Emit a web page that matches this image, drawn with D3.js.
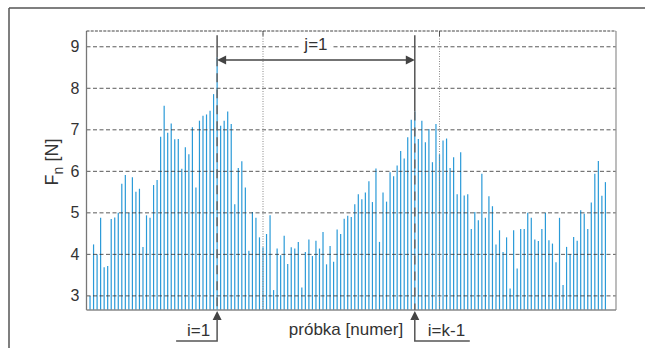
<!DOCTYPE html>
<html><head><meta charset="utf-8">
<script src="https://cdn.jsdelivr.net/npm/d3@7/dist/d3.min.js"></script>
<style>body{margin:0;background:#fff}svg{display:block}text{font-family:"Liberation Sans",Arial,sans-serif;fill:#333}</style>
</head><body><svg id="c" width="645" height="348"></svg>
<script>
// ---- data ----
const force = [
 3.0,4.24,4.0,4.88,3.69,3.72,4.85,4.89,5.0,5.7,5.91,5.0,5.86,5.51,5.58,4.18,4.94,4.88,5.67,5.79,
 6.83,7.58,6.93,7.15,6.77,6.78,6.06,6.58,6.41,7.06,5.61,7.22,7.34,7.37,7.46,7.86,8.75,7.1,7.22,7.44,
 7.14,5.21,6.08,6.24,5.61,4.09,5.02,4.88,4.41,4.17,4.49,4.94,3.14,4.14,3.98,4.45,3.77,4.17,4.14,4.3,
 3.2,4.06,4.36,3.96,4.33,4.14,4.54,3.76,4.2,3.82,4.6,4.49,4.86,4.93,4.9,5.21,5.45,5.33,5.49,5.76,
 5.26,6.07,4.3,5.49,5.27,5.98,5.88,6.14,6.49,6.31,6.82,7.24,7.44,6.78,7.22,6.7,7.02,6.22,7.14,6.41,
 6.74,6.79,6.08,6.34,5.45,6.46,5.42,5.45,4.61,5.02,4.82,5.94,4.88,5.4,5.16,4.24,4.58,4.06,4.41,3.18,
 4.58,3.66,4.61,4.61,5.0,4.88,4.36,4.32,4.61,5.0,4.34,4.26,3.81,4.88,3.26,4.18,4.0,4.42,4.33,5.06,
 4.98,4.61,5.25,5.94,6.25,5.41,5.74];
const samples = force.map((d,i)=>i+1);
const yTicks = [3,4,5,6,7,8,9];
const xTicks = [50,100];
const xDomain = [0,150];
const yDomain = [2.66,9.38];
const markers = [{i:37,label:"i=1",side:"left"},{i:93,label:"i=k-1",side:"right"}];
const spanLabel = "j=1";
const spanLevel = 8.68;
const markerTop = 9.28;
const xLabel = "próbka [numer]";

// ---- layout ----
const svg = d3.select("#c");
const L=86.5,R=616,T=31,B=310;
const x = d3.scaleLinear().domain(xDomain).range([L,R]);
const y = d3.scaleLinear().domain(yDomain).range([B,T]);

// outer frame
svg.append("line").attr("x1",9).attr("x2",9).attr("y1",8).attr("y2",348).attr("stroke","#555").attr("stroke-width",1.5);
svg.append("line").attr("x1",9).attr("x2",645).attr("y1",8).attr("y2",8).attr("stroke","#555").attr("stroke-width",1.5);

// bars
svg.append("g").selectAll("line").data(force).join("line")
  .attr("x1",(d,i)=>x(samples[i])).attr("x2",(d,i)=>x(samples[i]))
  .attr("y1",y(yDomain[0])).attr("y2",d=>y(d))
  .attr("stroke","#2a9ad8").attr("stroke-width",1.2);

// grid
svg.append("g").selectAll("line").data(yTicks).join("line")
  .attr("x1",L).attr("x2",R).attr("y1",d=>y(d)).attr("y2",d=>y(d))
  .attr("stroke","#333").attr("stroke-width",1).attr("stroke-dasharray","4,2.5").attr("opacity",0.8);
svg.append("g").selectAll("line").data(xTicks).join("line")
  .attr("x1",d=>x(d)).attr("x2",d=>x(d)).attr("y1",T).attr("y2",B)
  .attr("stroke","#888").attr("stroke-width",1).attr("stroke-dasharray","1,1.5");
svg.append("g").selectAll("line").data(xTicks).join("line")
  .attr("x1",d=>x(d)).attr("x2",d=>x(d)).attr("y1",T).attr("y2",T+5)
  .attr("stroke","#555").attr("stroke-width",1);

// axes box
svg.append("line").attr("x1",L).attr("x2",L).attr("y1",T).attr("y2",B).attr("stroke","#777").attr("stroke-width",1.3);
svg.append("line").attr("x1",R).attr("x2",R).attr("y1",T).attr("y2",B).attr("stroke","#999").attr("stroke-width",1.3);
svg.append("line").attr("x1",L).attr("x2",R).attr("y1",B).attr("y2",B).attr("stroke","#888").attr("stroke-width",1.3);
svg.append("line").attr("x1",L).attr("x2",R).attr("y1",T).attr("y2",T).attr("stroke","#444").attr("stroke-width",1).attr("stroke-dasharray","3,1.2");

// y tick labels
svg.append("g").selectAll("text").data(yTicks).join("text")
  .attr("x",L-7).attr("y",d=>y(d)).attr("text-anchor","end").attr("dominant-baseline","central")
  .attr("font-size",16).text(d=>d);

// y label
const yl = svg.append("text").attr("transform","translate(58,162) rotate(-90)").attr("text-anchor","middle").attr("font-size",18);
yl.append("tspan").text("F");
yl.append("tspan").attr("font-size",14).attr("dy",5).text("n");
yl.append("tspan").attr("dy",-5).text(" [N]");

// x label
svg.append("text").attr("x",346).attr("y",335).attr("text-anchor","middle").attr("font-size",17).text(xLabel);

// markers
const ac = "#444";
markers.forEach(m=>{
  const mx = x(m.i), v = force[m.i-1];
  svg.append("line").attr("x1",mx).attr("x2",mx).attr("y1",y(markerTop)).attr("y2",y(v))
    .attr("stroke","#555").attr("stroke-width",1.5);
  svg.append("line").attr("x1",mx).attr("x2",mx).attr("y1",y(v)).attr("y2",B)
    .attr("stroke","#666").attr("stroke-width",1.5).attr("stroke-dasharray","9,7");
  // bottom arrow
  svg.append("path").attr("d",`M${mx},${B+1}L${mx-4.5},${B+10}L${mx+4.5},${B+10}Z`).attr("fill",ac);
  const ex = m.side==="left" ? mx-41 : mx+55;
  svg.append("path").attr("d",`M${mx},${B+9}V${B+31}H${ex}`).attr("fill","none").attr("stroke","#555").attr("stroke-width",1.5);
  svg.append("text").attr("x", m.side==="left"? mx-7 : mx+13).attr("y",B+26)
    .attr("text-anchor", m.side==="left"?"end":"start").attr("font-size",17).text(m.label);
});

// span arrow
const x1 = x(markers[0].i), x2 = x(markers[1].i), sy = y(spanLevel);
svg.append("line").attr("x1",x1+8).attr("x2",x2-8).attr("y1",sy).attr("y2",sy).attr("stroke",ac).attr("stroke-width",1.5);
svg.append("path").attr("d",`M${x1},${sy}L${x1+9},${sy-4.5}L${x1+9},${sy+4.5}Z`).attr("fill",ac);
svg.append("path").attr("d",`M${x2},${sy}L${x2-9},${sy-4.5}L${x2-9},${sy+4.5}Z`).attr("fill",ac);
const mid = (x1+x2)/2;
svg.append("rect").attr("x",mid-15).attr("y",y(9)-7).attr("width",30).attr("height",14).attr("fill","#fff");
svg.append("text").attr("x",mid).attr("y",sy-10).attr("text-anchor","middle").attr("font-size",17).text(spanLabel);
</script></body></html>
